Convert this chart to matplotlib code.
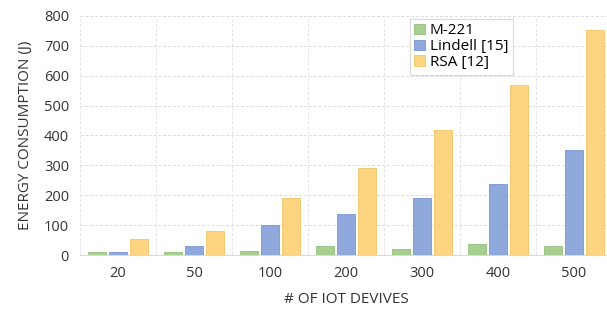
import matplotlib
matplotlib.use("Agg")
import matplotlib.pyplot as plt
import numpy as np

plt.rcParams['font.family'] = ['Open Sans', 'DejaVu Sans']

devices = ['20', '50', '100', '200', '300', '400', '500']
m221 = [11, 11, 15, 30, 19, 36, 30]
lindell = [11, 30, 99, 138, 191, 239, 352]
rsa = [55, 81, 192, 290, 418, 568, 753]

series = [('M-221', m221, '#a6cf90', '#94bf7e'),
          ('Lindell [15]', lindell, '#90a9dc', '#7a94cc'),
          ('RSA [12]', rsa, '#fdd480', '#f2c468')]

fig = plt.figure(figsize=(6.07, 3.11), dpi=100)
ax = fig.add_axes([0.132, 0.18, 0.876, 0.769])

x = np.arange(len(devices))
w = 0.237
step = 0.276
for i, (name, vals, fc, ec) in enumerate(series):
    ax.bar(x + (i - 1) * step, vals, w, color=fc, edgecolor=ec, linewidth=0.6,
           label=name, zorder=3)

ax.set_xlim(-0.5, len(devices) - 0.5)
ax.set_ylim(0, 800)
ax.set_yticks(range(0, 801, 100))
ax.set_xticks(x)
ax.set_xticklabels(devices)
ax.set_xticks(np.arange(-0.5, len(devices), 1.0), minor=True)
ax.tick_params(which='both', length=0)
ax.tick_params(axis='both', labelsize=10.5, colors='#333333', pad=8)

ax.grid(axis='y', which='major', color='#dcdcdc', linestyle=(0, (3, 2)), linewidth=0.7, zorder=0)
ax.grid(axis='x', which='minor', color='#e4e4e4', linestyle=(0, (3, 2)), linewidth=0.7, zorder=0)
for s in ['top', 'right', 'left']:
    ax.spines[s].set_visible(False)
ax.spines['bottom'].set_color('#d9d9d9')

ax.set_ylabel('ENERGY CONSUMPTION (J)', fontsize=11, color='#333333', labelpad=8)
ax.set_xlabel('# OF IOT DEVIVES', fontsize=11, color='#333333', labelpad=8)

leg = ax.legend(loc='upper left', bbox_to_anchor=(0.614, 1.0), fontsize=11,
                handlelength=0.7, handleheight=0.7, handletextpad=0.3,
                labelspacing=0.05, borderpad=0.3, borderaxespad=0.2,
                fancybox=False, framealpha=1)
leg.get_frame().set_edgecolor('#d9d9d9')
leg.get_frame().set_linewidth(0.8)

fig.savefig('out.png', dpi=100)
